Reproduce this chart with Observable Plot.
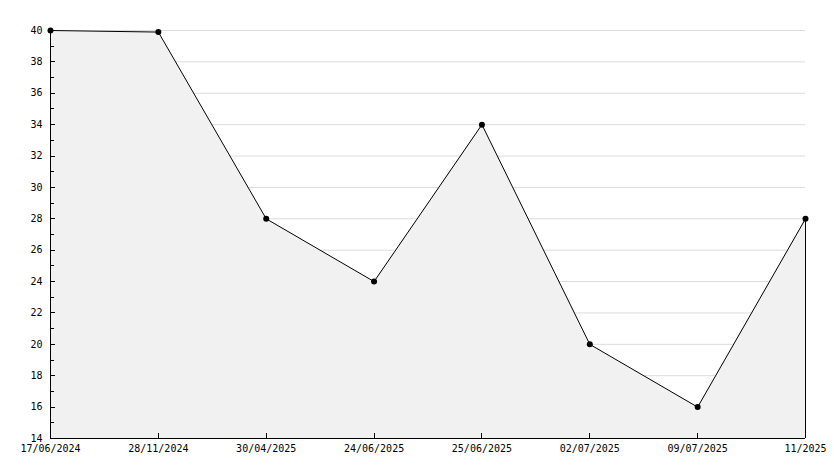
<!DOCTYPE html>
<html>
<head>
<meta charset="utf-8">
<script src="https://cdn.jsdelivr.net/npm/d3@7"></script>
<script src="https://cdn.jsdelivr.net/npm/@observablehq/plot@0.6"></script>
<style>
  html, body { margin: 0; padding: 0; background: #fff; }
  svg { display: block; }
</style>
</head>
<body>
<div id="chart"></div>
<script>
const dates = ["17/06/2024", "28/11/2024", "30/04/2025", "24/06/2025", "25/06/2025", "02/07/2025", "09/07/2025", "11/2025"];
const values = [40, 39.9, 28, 24, 34, 20, 16, 28];
const yMajorTicks = [14, 16, 18, 20, 22, 24, 26, 28, 30, 32, 34, 36, 38, 40];
const yMinorTicks = [15, 17, 19, 21, 23, 25, 27, 29, 31, 33, 35, 37, 39];
const yMin = 14, yMax = 40;

const data = dates.map((d, i) => ({date: d, value: values[i]}));

function innerTicks(index, scales, vals, dim) {
  const g = d3.create("svg:g")
    .attr("stroke", "#000")
    .attr("stroke-width", 1)
    .attr("shape-rendering", "crispEdges");
  const x0 = dim.marginLeft;
  const yb = dim.height - dim.marginBottom;
  for (const v of yMajorTicks) {
    const y = Math.round(scales.y(v)) + 0.5;
    g.append("line").attr("x1", x0).attr("x2", x0 + 5).attr("y1", y).attr("y2", y);
  }
  for (const v of yMinorTicks) {
    const y = Math.round(scales.y(v)) + 0.5;
    g.append("line").attr("x1", x0).attr("x2", x0 + 4).attr("y1", y).attr("y2", y);
  }
  for (const d of dates) {
    const x = Math.round(scales.x(d)) + 0.5;
    g.append("line").attr("x1", x).attr("x2", x).attr("y1", yb).attr("y2", yb - 5);
  }
  return g.node();
}

const chart = Plot.plot({
  width: 834,
  height: 468,
  marginLeft: 50,
  marginRight: 29,
  marginTop: 30,
  marginBottom: 30,
  style: {fontFamily: "'DejaVu Sans Mono', monospace", fontSize: "10px", color: "#000", background: "#fff"},
  x: {type: "point", domain: dates, padding: 0, round: false, label: null},
  y: {domain: [yMin, yMax], label: null},
  marks: [
    Plot.ruleY(yMajorTicks.filter(v => v > yMin), {stroke: "#dcdcdc", strokeOpacity: 1}),
    Plot.areaY(data, {x: "date", y1: yMin, y2: "value", fill: "#f1f1f1", fillOpacity: 1}),
    Plot.ruleX([data[data.length - 1]], {x: "date", y1: yMin, y2: "value", stroke: "#000"}),
    Plot.lineY(data, {x: "date", y: "value", stroke: "#000", strokeWidth: 1}),
    Plot.dot(data, {x: "date", y: "value", r: 3, fill: "#000", stroke: "none"}),
    Plot.ruleX([dates[0]], {stroke: "#000"}),
    Plot.ruleY([yMin], {stroke: "#000"}),
    Plot.axisY({ticks: yMajorTicks, tickSize: 0, tickPadding: 8, tickFormat: d => String(d), label: null}),
    Plot.axisX({tickSize: 0, tickPadding: 6, tickFormat: d => d, label: null}),
    innerTicks
  ]
});
document.getElementById("chart").appendChild(chart);
</script>
</body>
</html>
